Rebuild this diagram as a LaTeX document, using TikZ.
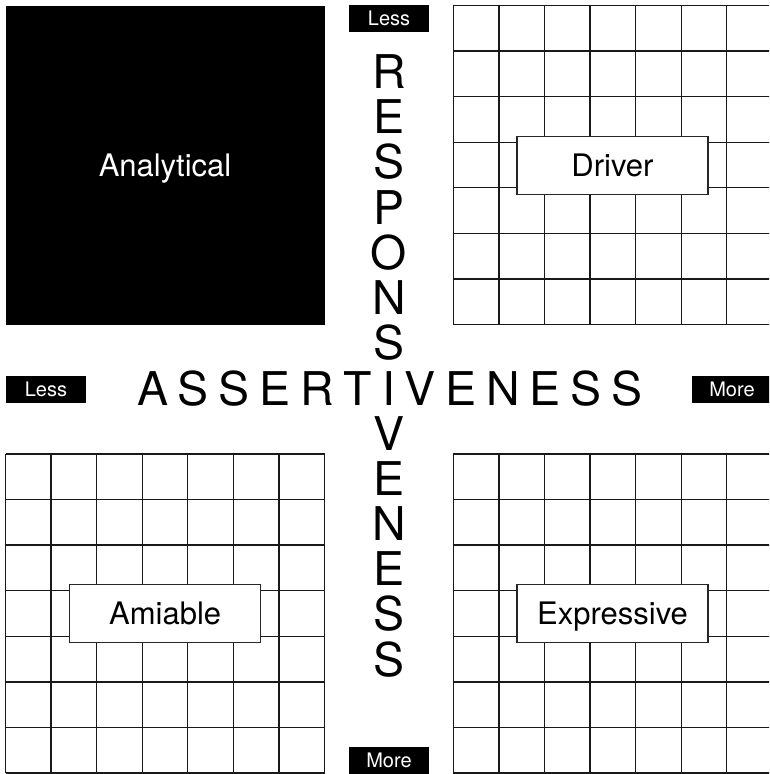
\documentclass[tikz,border=0pt]{standalone}
\usepackage{fontspec}
\setmainfont{TeX Gyre Heros}
\newcommand\asgap{\kern9.8pt}
\begin{document}
\begin{tikzpicture}[x=1pt,y=-1pt,
  gridline/.style={line width=1.3pt, black!90},
  quadlabel/.style={draw=black!85, line width=1.2pt, fill=white, minimum width=191pt, minimum height=58pt, inner sep=0pt, text height=22.5pt, text depth=0pt, font=\fontsize{31}{37}\selectfont},
  tag/.style={fill=black, text=white, minimum width=80pt, minimum height=27pt, inner sep=0pt, text height=14.3pt, text depth=0pt, font=\fontsize{20}{24}\selectfont},
  bigletter/.style={inner sep=0pt, anchor=base, font=\fontsize{46.5}{50}\selectfont}]
\useasboundingbox (0,0) rectangle (769,774);
\clip (0,0) rectangle (769,774);
% Analytical quadrant (solid black)
\fill[black] (5.5,5.5) rectangle (325,324.5);
% grid quadrants
\foreach \gx/\gy in {453.3/5.5, 5.5/454, 453.3/454} {
  \foreach \i in {0,...,7} {
    \draw[gridline] ({\gx+\i*45.57},\gy) -- ({\gx+\i*45.57},{\gy+319});
    \draw[gridline] (\gx,{\gy+\i*45.57}) -- ({\gx+319},{\gy+\i*45.57});
  }
}
% quadrant labels
\node[inner sep=0pt, text=white, text height=22.5pt, text depth=0pt, font=\fontsize{31}{37}\selectfont] (analytical) at (165,165.3) {Analytical};
\node[quadlabel] (driver) at (612.5,165.2) {Driver};
\node[quadlabel] (amiable) at (165.2,613.3) {Amiable};
\node[quadlabel] (expressive) at (612.5,613.3) {Expressive};
% axis words
\node[bigletter, anchor=base west] (assert) at (137,405.5) {A\asgap S\asgap S\asgap E\asgap R\asgap T\asgap I\asgap V\asgap E\asgap N\asgap E\asgap S\asgap S};
\foreach \L/\k in {R/0,E/1,S/2,P/3,O/4,N/5,S/6,V/8,E/9,N/10,E/11,S/12,S/13} {
  \node[bigletter] (resp\k) at (389,{88.5+45.2*\k}) {\L};
}
% tags
\node[tag] (lessTop) at (389,18.5) {Less};
\node[tag] (moreBottom) at (389,760) {More};
\node[tag] (lessLeft) at (46,389.5) {Less};
\node[tag] (moreRight) at (732,389.5) {More};
\end{tikzpicture}
\end{document}
